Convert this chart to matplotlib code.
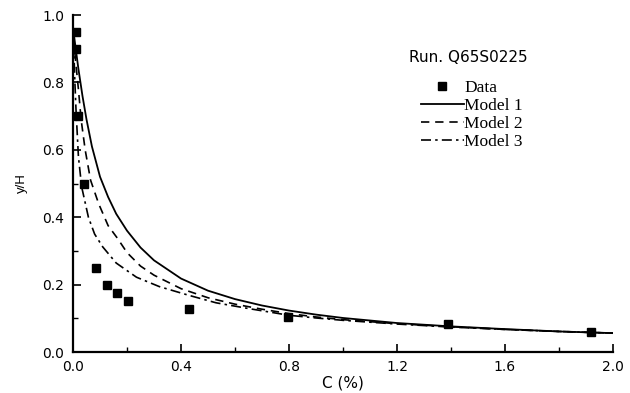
import matplotlib
matplotlib.use("Agg")
import matplotlib.pyplot as plt
from matplotlib.ticker import MultipleLocator

# Measured data
data_c = [0.01, 0.01, 0.02, 0.04, 0.084, 0.126, 0.162, 0.203, 0.428, 0.795, 1.39, 1.92]
data_y = [0.95, 0.90, 0.70, 0.50, 0.25, 0.20, 0.176, 0.151, 0.127, 0.103, 0.082, 0.058]

# Model curves
m1_c = [0.002, 0.01, 0.02, 0.035, 0.05, 0.07, 0.1, 0.13, 0.16, 0.2, 0.25, 0.3, 0.4, 0.5,
        0.6, 0.7, 0.8, 0.9, 1.0, 1.2, 1.4, 1.6, 1.8, 2.0]
m1_y = [0.95, 0.90, 0.84, 0.76, 0.69, 0.61, 0.52, 0.46, 0.41, 0.36, 0.31, 0.272, 0.218, 0.182,
        0.157, 0.138, 0.123, 0.111, 0.101, 0.086, 0.076, 0.068, 0.061, 0.056]

m2_c = [0.002, 0.01, 0.02, 0.03, 0.045, 0.065, 0.095, 0.13, 0.165, 0.2, 0.25, 0.3, 0.4, 0.5,
        0.6, 0.7, 0.8, 0.9, 1.0, 1.2, 1.4, 1.6, 1.8, 2.0]
m2_y = [0.93, 0.86, 0.78, 0.69, 0.60, 0.51, 0.44, 0.375, 0.337, 0.295, 0.255, 0.228, 0.188, 0.161,
        0.142, 0.127, 0.114, 0.104, 0.096, 0.084, 0.075, 0.067, 0.061, 0.056]

m3_c = [0.002, 0.006, 0.011, 0.02, 0.032, 0.057, 0.08, 0.11, 0.16, 0.235, 0.32, 0.43, 0.53,
        0.65, 0.8, 0.9, 1.0, 1.2, 1.4, 1.6, 1.8, 2.0]
m3_y = [0.92, 0.82, 0.72, 0.58, 0.49, 0.40, 0.35, 0.312, 0.264, 0.222, 0.194, 0.168, 0.146,
        0.129, 0.109, 0.101, 0.094, 0.083, 0.074, 0.067, 0.061, 0.056]

x_ticks = [0.0, 0.4, 0.8, 1.2, 1.6, 2.0]
y_ticks = [0.0, 0.2, 0.4, 0.6, 0.8, 1.0]

sans = ["DejaVu Sans"]
lsans = ["Liberation Sans", "DejaVu Sans"]
serif = ["Liberation Serif", "DejaVu Serif"]

fig = plt.figure(figsize=(6.3, 3.93), dpi=100)
ax = fig.add_axes([0.1159, 0.1043, 0.8571, 0.8575])

ax.plot(data_c, data_y, "s", color="black", markersize=5.5, label="Data", zorder=5)
ax.plot(m1_c, m1_y, "-", color="black", lw=1.3, label="Model 1")
ax.plot(m2_c, m2_y, color="black", lw=1.2, dashes=(5, 3.5), label="Model 2")
ax.plot(m3_c, m3_y, color="black", lw=1.2, dashes=(6, 2.5, 1.5, 2.5), label="Model 3")

ax.set_xlim(0, 2.0)
ax.set_ylim(0, 1.0)
ax.set_xticks(x_ticks)
ax.set_yticks(y_ticks)
ax.set_xticklabels([f"{v:.1f}" for v in x_ticks], fontfamily=sans, fontsize=10)
ax.set_yticklabels([f"{v:.1f}" for v in y_ticks], fontfamily=sans, fontsize=10)
ax.xaxis.set_minor_locator(MultipleLocator(0.2))
ax.yaxis.set_minor_locator(MultipleLocator(0.1))
ax.tick_params(which="major", direction="in", length=6, width=1.2)
ax.tick_params(axis="x", which="major", pad=6)
ax.tick_params(axis="y", which="major", pad=6.5)
ax.tick_params(which="minor", direction="in", length=3.5, width=1.0)

for s in ["top", "right"]:
    ax.spines[s].set_visible(False)
for s in ["left", "bottom"]:
    ax.spines[s].set_linewidth(1.6)

ax.set_xlabel("C (%)", fontfamily=sans, fontsize=11, labelpad=1)
ax.set_ylabel("y/H", fontfamily=lsans, fontsize=9.5, labelpad=10)

fig.text(409 / 630, 1 - 58 / 393, "Run. Q65S0225", fontfamily=sans, fontsize=11,
         ha="left", va="center")

leg = ax.legend(loc="upper left", bbox_to_anchor=(421 / 630, 1 - 80 / 393),
                bbox_transform=fig.transFigure, frameon=False,
                prop={"family": serif, "size": 12.5}, handlelength=2.45,
                handletextpad=0.05, labelspacing=0.1, borderpad=0, borderaxespad=0)

fig.savefig("out.png", dpi=100)
